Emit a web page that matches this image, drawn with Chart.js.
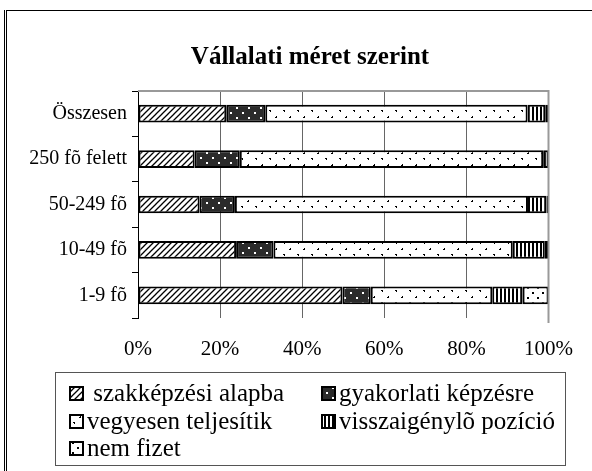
<!DOCTYPE html>
<html>
<head>
<meta charset="utf-8">
<script src="https://cdn.jsdelivr.net/npm/chart.js@4.4.0/dist/chart.umd.min.js"></script>
<style>
  body { margin: 0; background: #fff; }
  #wrap { width: 592px; height: 471px; position: relative; }
</style>
</head>
<body>
<div id="wrap"><canvas id="myChart" width="592" height="471"></canvas></div>
<script>
// adatok
const kategoriak = ['Összesen', '250 fõ felett', '50-249 fõ', '10-49 fõ', '1-9 fõ'];
const szakkepzesi = [21.5, 13.8, 15.0, 23.9, 49.8];
const gyakorlati = [9.5, 11.0, 8.6, 9.1, 6.9];
const vegyesen = [63.9, 73.9, 71.4, 58.3, 29.6];
const visszaigeny = [4.3, 1.3, 4.5, 7.8, 7.4];
const nemFizet = [0.8, 0.0, 0.5, 0.9, 6.3];
const sorozatNevek = [' szakképzési alapba', 'gyakorlati képzésre', 'vegyesen teljesítik', 'visszaigénylõ pozíció', 'nem fizet'];
const xTicks = [0, 20, 40, 60, 80, 100];

const FONT = '"Liberation Serif", "Times New Roman", serif';

// minták (patterns) a sávokhoz
function minta(tipus) {
  const c = document.createElement('canvas');
  const g = c.getContext('2d');
  if (tipus === 'ferde') {
    c.width = 6; c.height = 6;
    g.fillStyle = '#fff'; g.fillRect(0, 0, 6, 6);
    g.strokeStyle = '#000'; g.lineWidth = 1.3;
    g.beginPath();
    g.moveTo(-1, 7); g.lineTo(7, -1);
    g.moveTo(-4, 4); g.lineTo(4, -4);
    g.moveTo(2, 10); g.lineTo(10, 2);
    g.stroke();
  } else if (tipus === 'sotetpont') {
    c.width = 12; c.height = 10;
    g.fillStyle = '#2b2b2b'; g.fillRect(0, 0, 12, 10);
    g.fillStyle = '#fff';
    g.fillRect(2, 2, 2, 2);
    g.fillRect(8, 7, 2, 2);
  } else if (tipus === 'konfetti') {
    c.width = 14; c.height = 12;
    g.fillStyle = '#fff'; g.fillRect(0, 0, 14, 12);
    g.fillStyle = '#000';
    g.fillRect(3, 2, 2, 1); g.fillRect(4, 3, 1, 1);
    g.fillRect(10, 8, 1, 1); g.fillRect(9, 9, 2, 1);
  } else if (tipus === 'fuggoleges') {
    c.width = 4; c.height = 4;
    g.fillStyle = '#fff'; g.fillRect(0, 0, 4, 4);
    g.fillStyle = '#000'; g.fillRect(0, 0, 2, 4);
  } else {
    c.width = 10; c.height = 10;
    g.fillStyle = '#fff'; g.fillRect(0, 0, 10, 10);
    g.fillStyle = '#000';
    g.fillRect(2, 2, 2, 2);
    g.fillRect(7, 7, 2, 2);
  }
  return g.createPattern(c, 'repeat');
}

const mintak = [minta('ferde'), minta('sotetpont'), minta('konfetti'), minta('fuggoleges'), minta('pont')];
const ertekek = [szakkepzesi, gyakorlati, vegyesen, visszaigeny, nemFizet];

const datasets = sorozatNevek.map((nev, i) => ({
  label: nev,
  data: ertekek[i],
  backgroundColor: mintak[i],
  borderColor: '#000',
  borderWidth: 2,
  borderSkipped: false,
  barPercentage: 0.39,
  categoryPercentage: 1.0
}));

// keret, cím, jelmagyarázat rajzolása
const keretPlugin = {
  id: 'keret',
  beforeDraw(chart) {
    const ctx = chart.ctx;
    ctx.save();
    ctx.fillStyle = '#fff';
    ctx.fillRect(0, 0, chart.width, chart.height);
    ctx.strokeStyle = '#000';
    ctx.lineWidth = 1;
    ctx.beginPath();
    ctx.moveTo(4.5, 10); ctx.lineTo(4.5, 471);
    ctx.moveTo(6.5, 10); ctx.lineTo(6.5, 471);
    ctx.moveTo(6, 10.5); ctx.lineTo(592, 10.5);
    ctx.stroke();
    ctx.restore();
  },
  afterDatasetsDraw(chart) {
    const ctx = chart.ctx;
    const a = chart.chartArea;
    ctx.save();
    // felső és jobb szegély
    ctx.strokeStyle = '#999';
    ctx.lineWidth = 2;
    ctx.beginPath();
    ctx.moveTo(a.left, a.top); ctx.lineTo(a.right, a.top); ctx.lineTo(a.right, a.bottom + 5);
    ctx.stroke();
    ctx.restore();
  },
  afterDraw(chart) {
    const ctx = chart.ctx;
    ctx.save();
    // cím
    ctx.fillStyle = '#000';
    ctx.font = 'bold 25px ' + FONT;
    ctx.textAlign = 'center';
    ctx.textBaseline = 'middle';
    ctx.fillText('Vállalati méret szerint', 310, 58);

    // jelmagyarázat
    ctx.strokeStyle = '#555';
    ctx.lineWidth = 1;
    ctx.strokeRect(55.5, 372.5, 510, 93);
    ctx.font = '25px ' + FONT;
    ctx.textAlign = 'left';
    const pozx = [70, 322, 70, 322, 70];
    const pozy = [393, 393, 421, 421, 448];
    chart.data.datasets.forEach((ds, i) => {
      const x = pozx[i], y = pozy[i];
      ctx.fillStyle = ds.backgroundColor;
      ctx.fillRect(x, y - 6, 13, 13);
      ctx.strokeStyle = '#000';
      ctx.lineWidth = 2;
      ctx.strokeRect(x, y - 6, 13, 13);
      ctx.fillStyle = '#000';
      ctx.fillText(ds.label, x + 17, y + 1);
    });
    ctx.restore();
  }
};

new Chart(document.getElementById('myChart'), {
  type: 'bar',
  data: { labels: kategoriak, datasets: datasets },
  plugins: [keretPlugin],
  options: {
    indexAxis: 'y',
    responsive: false,
    animation: false,
    layout: { padding: { left: 0, top: 91, right: 41, bottom: 113 } },
    plugins: {
      legend: { display: false },
      title: { display: false },
      tooltip: { enabled: false }
    },
    scales: {
      x: {
        stacked: true,
        min: 0,
        max: 100,
        afterFit: (s) => { s.height = 40; },
        afterBuildTicks: (s) => { s.ticks = xTicks.map(v => ({ value: v })); },
        ticks: {
          callback: (v) => v + '%',
          font: { family: FONT, size: 21 },
          color: '#000',
          padding: 19,
          maxRotation: 0
        },
        grid: { color: '#666', lineWidth: 1, drawTicks: false },
        border: { display: false }
      },
      y: {
        stacked: true,
        afterFit: (s) => { s.width = 138; },
        ticks: {
          font: { family: FONT, size: 20 },
          color: '#000',
          padding: 5
        },
        grid: { drawOnChartArea: false, offset: true, tickLength: 6, color: '#000' },
        border: { color: '#000', width: 1 }
      }
    }
  }
});
</script>
</body>
</html>
